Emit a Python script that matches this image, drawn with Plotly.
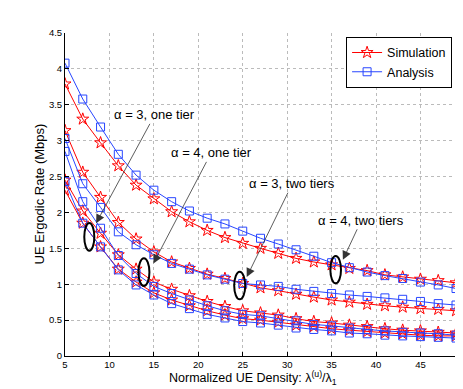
import plotly.graph_objects as go

density = [5, 7, 9, 11, 13, 15, 17, 19, 21, 23, 25, 27, 29, 31, 33, 35, 37, 39, 41, 43, 45, 47, 49]

# alpha = 4, two tiers
sim_a4_two = [3.79, 3.30, 2.97, 2.65, 2.38, 2.19, 2.01, 1.87, 1.75, 1.65, 1.57, 1.50, 1.43, 1.36, 1.31, 1.27, 1.22, 1.19, 1.13, 1.10, 1.07, 1.05, 1.02]
ana_a4_two = [4.08, 3.58, 3.19, 2.81, 2.52, 2.31, 2.15, 2.02, 1.92, 1.84, 1.74, 1.64, 1.56, 1.48, 1.39, 1.30, 1.23, 1.17, 1.12, 1.08, 1.03, 0.99, 0.94]
# alpha = 3, two tiers
sim_a3_two = [3.14, 2.56, 2.21, 1.86, 1.63, 1.45, 1.31, 1.22, 1.14, 1.08, 1.01, 0.95, 0.91, 0.86, 0.82, 0.78, 0.75, 0.72, 0.70, 0.68, 0.66, 0.65, 0.63]
ana_a3_two = [3.03, 2.40, 2.07, 1.73, 1.55, 1.41, 1.29, 1.21, 1.13, 1.07, 1.01, 0.99, 0.97, 0.93, 0.90, 0.87, 0.85, 0.83, 0.81, 0.79, 0.76, 0.73, 0.71]
# one tier (upper pair)
sim_one_a = [2.45, 2.02, 1.71, 1.41, 1.21, 1.03, 0.93, 0.84, 0.76, 0.69, 0.63, 0.60, 0.57, 0.52, 0.48, 0.46, 0.43, 0.41, 0.38, 0.36, 0.35, 0.33, 0.32]
ana_one_a = [2.85, 2.15, 1.78, 1.40, 1.15, 0.97, 0.87, 0.78, 0.70, 0.63, 0.58, 0.56, 0.52, 0.49, 0.44, 0.42, 0.39, 0.37, 0.35, 0.33, 0.32, 0.31, 0.29]
# one tier (lower pair)
sim_one_b = [2.31, 1.85, 1.52, 1.21, 1.03, 0.88, 0.78, 0.70, 0.63, 0.57, 0.52, 0.50, 0.47, 0.43, 0.41, 0.38, 0.36, 0.34, 0.32, 0.31, 0.29, 0.28, 0.28]
ana_one_b = [2.43, 1.85, 1.52, 1.20, 0.99, 0.85, 0.73, 0.66, 0.58, 0.53, 0.48, 0.46, 0.43, 0.39, 0.37, 0.35, 0.32, 0.31, 0.29, 0.28, 0.27, 0.26, 0.25]

x_ticks = [5, 10, 15, 20, 25, 30, 35, 40, 45]
y_ticks = [0, 0.5, 1, 1.5, 2, 2.5, 3, 3.5, 4, 4.5]

labels = ["α = 3, one tier", "α = 4, one tier", "α = 3, two tiers", "α = 4, two tiers"]
label_pos = [(15.1, 3.36), (21.45, 2.83), (30.58, 2.40), (38.35, 1.89)]
arrow_head = [(8.5, 1.85), (14.95, 1.29), (25.45, 1.10), (36.27, 1.34)]
ellipses = [(7.17, 8.30, 1.467, 1.852), (13.26, 14.50, 0.975, 1.361),
            (24.04, 25.28, 0.79, 1.174), (34.86, 36.06, 1.013, 1.393)]

RED = "rgb(255,0,0)"
BLUE = "rgb(40,70,255)"
FONT = "Liberation Sans, Arial, sans-serif"

fig = go.Figure()
sims = [sim_a4_two, sim_a3_two, sim_one_a, sim_one_b]
anas = [ana_a4_two, ana_a3_two, ana_one_a, ana_one_b]
for i, s in enumerate(sims):
    fig.add_trace(go.Scatter(x=density, y=s, mode="lines+markers", name="Simulation",
                             legendgroup="sim", showlegend=(i == 0),
                             line=dict(color=RED, width=1),
                             marker=dict(symbol="star-open", size=9, color=RED, line=dict(width=1, color=RED))))
for i, a in enumerate(anas):
    fig.add_trace(go.Scatter(x=density, y=a, mode="lines+markers", name="Analysis",
                             legendgroup="ana", showlegend=(i == 0),
                             line=dict(color=BLUE, width=1),
                             marker=dict(symbol="square-open", size=8, color=BLUE, line=dict(width=1, color=BLUE))))

annotations = []
for t, (tx, ty), (hx, hy) in zip(labels, label_pos, arrow_head):
    annotations.append(dict(x=hx, y=hy, ax=tx, ay=ty, xref="x", yref="y", axref="x", ayref="y",
                            text=t, showarrow=True, arrowhead=2, arrowsize=2.2, arrowwidth=0.8,
                            arrowcolor="#333333", standoff=0, startstandoff=0,
                            font=dict(family=FONT, size=13, color="black")))
annotations.append(dict(x=-0.064, y=0.503, xref="paper", yref="paper", text="UE Ergodic Rate (Mbps)",
                        textangle=-90, showarrow=False, xanchor="center", yanchor="middle",
                        font=dict(family=FONT, size=13, color="black")))
annotations.append(dict(x=0.481, y=-0.036, xref="paper", yref="paper",
                        text="Normalized UE Density: λ<sup>(u)</sup>/λ<sub>1</sub>",
                        showarrow=False, xanchor="center", yanchor="top", borderpad=0,
                        font=dict(family=FONT, size=12.5, color="black")))

shapes = []
for (x0, x1, y0, y1) in ellipses:
    shapes.append(dict(type="circle", xref="x", yref="y", x0=x0, x1=x1, y0=y0, y1=y1,
                       line=dict(color="black", width=2)))

# page body adds an 8px offset; figure is sized so the plot area lands at x 65-456, y 33-356
fig.update_layout(
    width=455, height=381,
    margin=dict(l=57, r=7, t=25, b=33),
    paper_bgcolor="white", plot_bgcolor="white",
    font=dict(family=FONT, size=9, color="black"),
    showlegend=True,
    legend=dict(x=0.99, y=0.988, xanchor="right", yanchor="top",
                bgcolor="white", bordercolor="black", borderwidth=1,
                font=dict(family=FONT, size=12.5, color="black"),
                itemwidth=30, tracegroupgap=0),
    annotations=annotations,
    shapes=shapes,
)
fig.update_xaxes(range=[5, 49], tickvals=x_ticks, ticktext=[str(v) for v in x_ticks],
                 showgrid=True, gridcolor="#bbbbbb", griddash="dot", gridwidth=1,
                 showline=True, linecolor="black", linewidth=1, mirror=False,
                 ticks="inside", ticklen=4, tickcolor="black", zeroline=False,
                 tickfont=dict(family=FONT, size=9.5, color="black"))
fig.update_yaxes(range=[0, 4.5], tickvals=y_ticks, ticktext=[f"{v:g}" for v in y_ticks],
                 showgrid=True, gridcolor="#bbbbbb", griddash="dot", gridwidth=1,
                 showline=True, linecolor="black", linewidth=1, mirror=False,
                 ticks="inside", ticklen=4, tickcolor="black", zeroline=False,
                 tickfont=dict(family=FONT, size=9.5, color="black"))

fig.write_html("out.html")
